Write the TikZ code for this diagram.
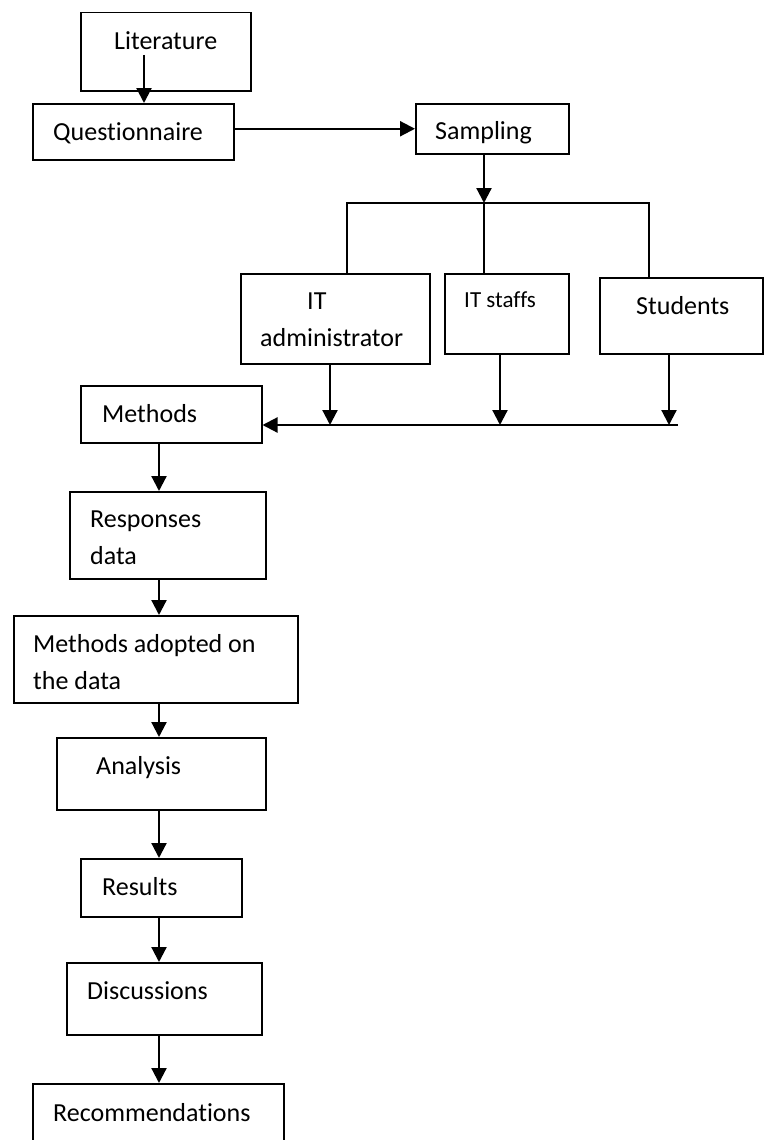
\documentclass[tikz,border=0pt]{standalone}
\usepackage{fontspec}
\setmainfont{Carlito}[Ligatures={NoCommon}]
\usetikzlibrary{arrows.meta}

\tikzset{
  box/.style={draw, line width=1.5pt, inner sep=0pt, anchor=north west},
  txt/.style={inner sep=0pt, anchor=base west, align=left,
    font=\fontsize{26}{36.5}\selectfont},
  arr/.style={line width=2.2pt, -{Triangle[length=15pt,width=15pt]}},
  branch/.style={line width=1.5pt}
}

\begin{document}
\begin{tikzpicture}[x=1pt,y=-1pt]
        \useasboundingbox (0,0) rectangle (763,1140);
        % boxes
        \node[box, minimum width=170, minimum height=78] (lit) at (80,12) {};
        \node[box, minimum width=201, minimum height=56] (quest) at (32,103) {};
        \node[box, minimum width=153, minimum height=50] (samp) at (415,103) {};
        \node[box, minimum width=189, minimum height=90] (admin) at (240,273) {};
        \node[box, minimum width=124, minimum height=80] (staff) at (444,273) {};
        \node[box, minimum width=163, minimum height=76] (stud) at (599,277) {};
        \node[box, minimum width=181, minimum height=57] (meth) at (80,385) {};
        \node[box, minimum width=196, minimum height=87] (resp) at (69,491) {};
        \node[box, minimum width=284, minimum height=87] (adopt) at (13,615) {};
        \node[box, minimum width=209, minimum height=72] (anal) at (56,737) {};
        \node[box, minimum width=161, minimum height=58] (res) at (80,858) {};
        \node[box, minimum width=195, minimum height=72] (disc) at (66,962) {};
        \node[box, minimum width=251, minimum height=70] (rec) at (32,1083) {};
        % texts (multi-line ones sit on their last line)
        \node[txt] (litT) at (114,49) {Literature};
        \node[txt] (questT) at (53,140) {Questionnaire};
        \node[txt] (sampT) at (435,139) {Sampling};
        \node[txt] (adminT) at (260,346) {\hspace*{47pt}IT\\administrator};
        \node[txt, font=\fontsize{23}{30}\selectfont] (staffT) at (464,307) {IT staffs};
        \node[txt] (studT) at (636,314) {Students};
        \node[txt] (methT) at (102,422) {Methods};
        \node[txt] (respT) at (90,564) {Responses\\data};
        \node[txt] (adoptT) at (33,689) {Methods adopted on\\the data};
        \node[txt] (analT) at (96,774) {Analysis};
        \node[txt] (resT) at (102,895) {Results};
        \node[txt] (discT) at (87,999) {Discussions};
        \node[txt] (recT) at (53,1121) {Recommendations};
        % connectors
        \coordinate (litdrop) at (144,55);
        \coordinate (fork) at (484,203);
        \coordinate (forkL) at (347,203);
        \coordinate (forkR) at (649,203);
        \coordinate (mergeA) at (330,425);
        \coordinate (mergeB) at (500,425);
        \coordinate (mergeC) at (669,425);
        \coordinate (mergeR) at (678,425);
        \coordinate (spine) at (159,0);
        \draw[arr] (litdrop) -- (litdrop |- quest.north);
        \draw[arr] (quest.east |- samp.west) -- (samp.west);
        \draw[arr] (fork |- samp.south) -- (fork);
        \draw[branch] (forkL |- admin.north) -- (forkL) -- (forkR) -- (forkR |- stud.north);
        \draw[branch] (fork) -- (fork |- staff.north);
        \draw[arr] (mergeA |- admin.south) -- (mergeA);
        \draw[arr] (mergeB |- staff.south) -- (mergeB);
        \draw[arr] (mergeC |- stud.south) -- (mergeC);
        \draw[arr] (mergeR) -- (mergeR -| meth.east);
        \foreach \a/\b in {meth/resp, resp/adopt, adopt/anal, anal/res, res/disc, disc/rec}
          \draw[arr] (spine |- \a.south) -- (spine |- \b.north);
\end{tikzpicture}
\end{document}
